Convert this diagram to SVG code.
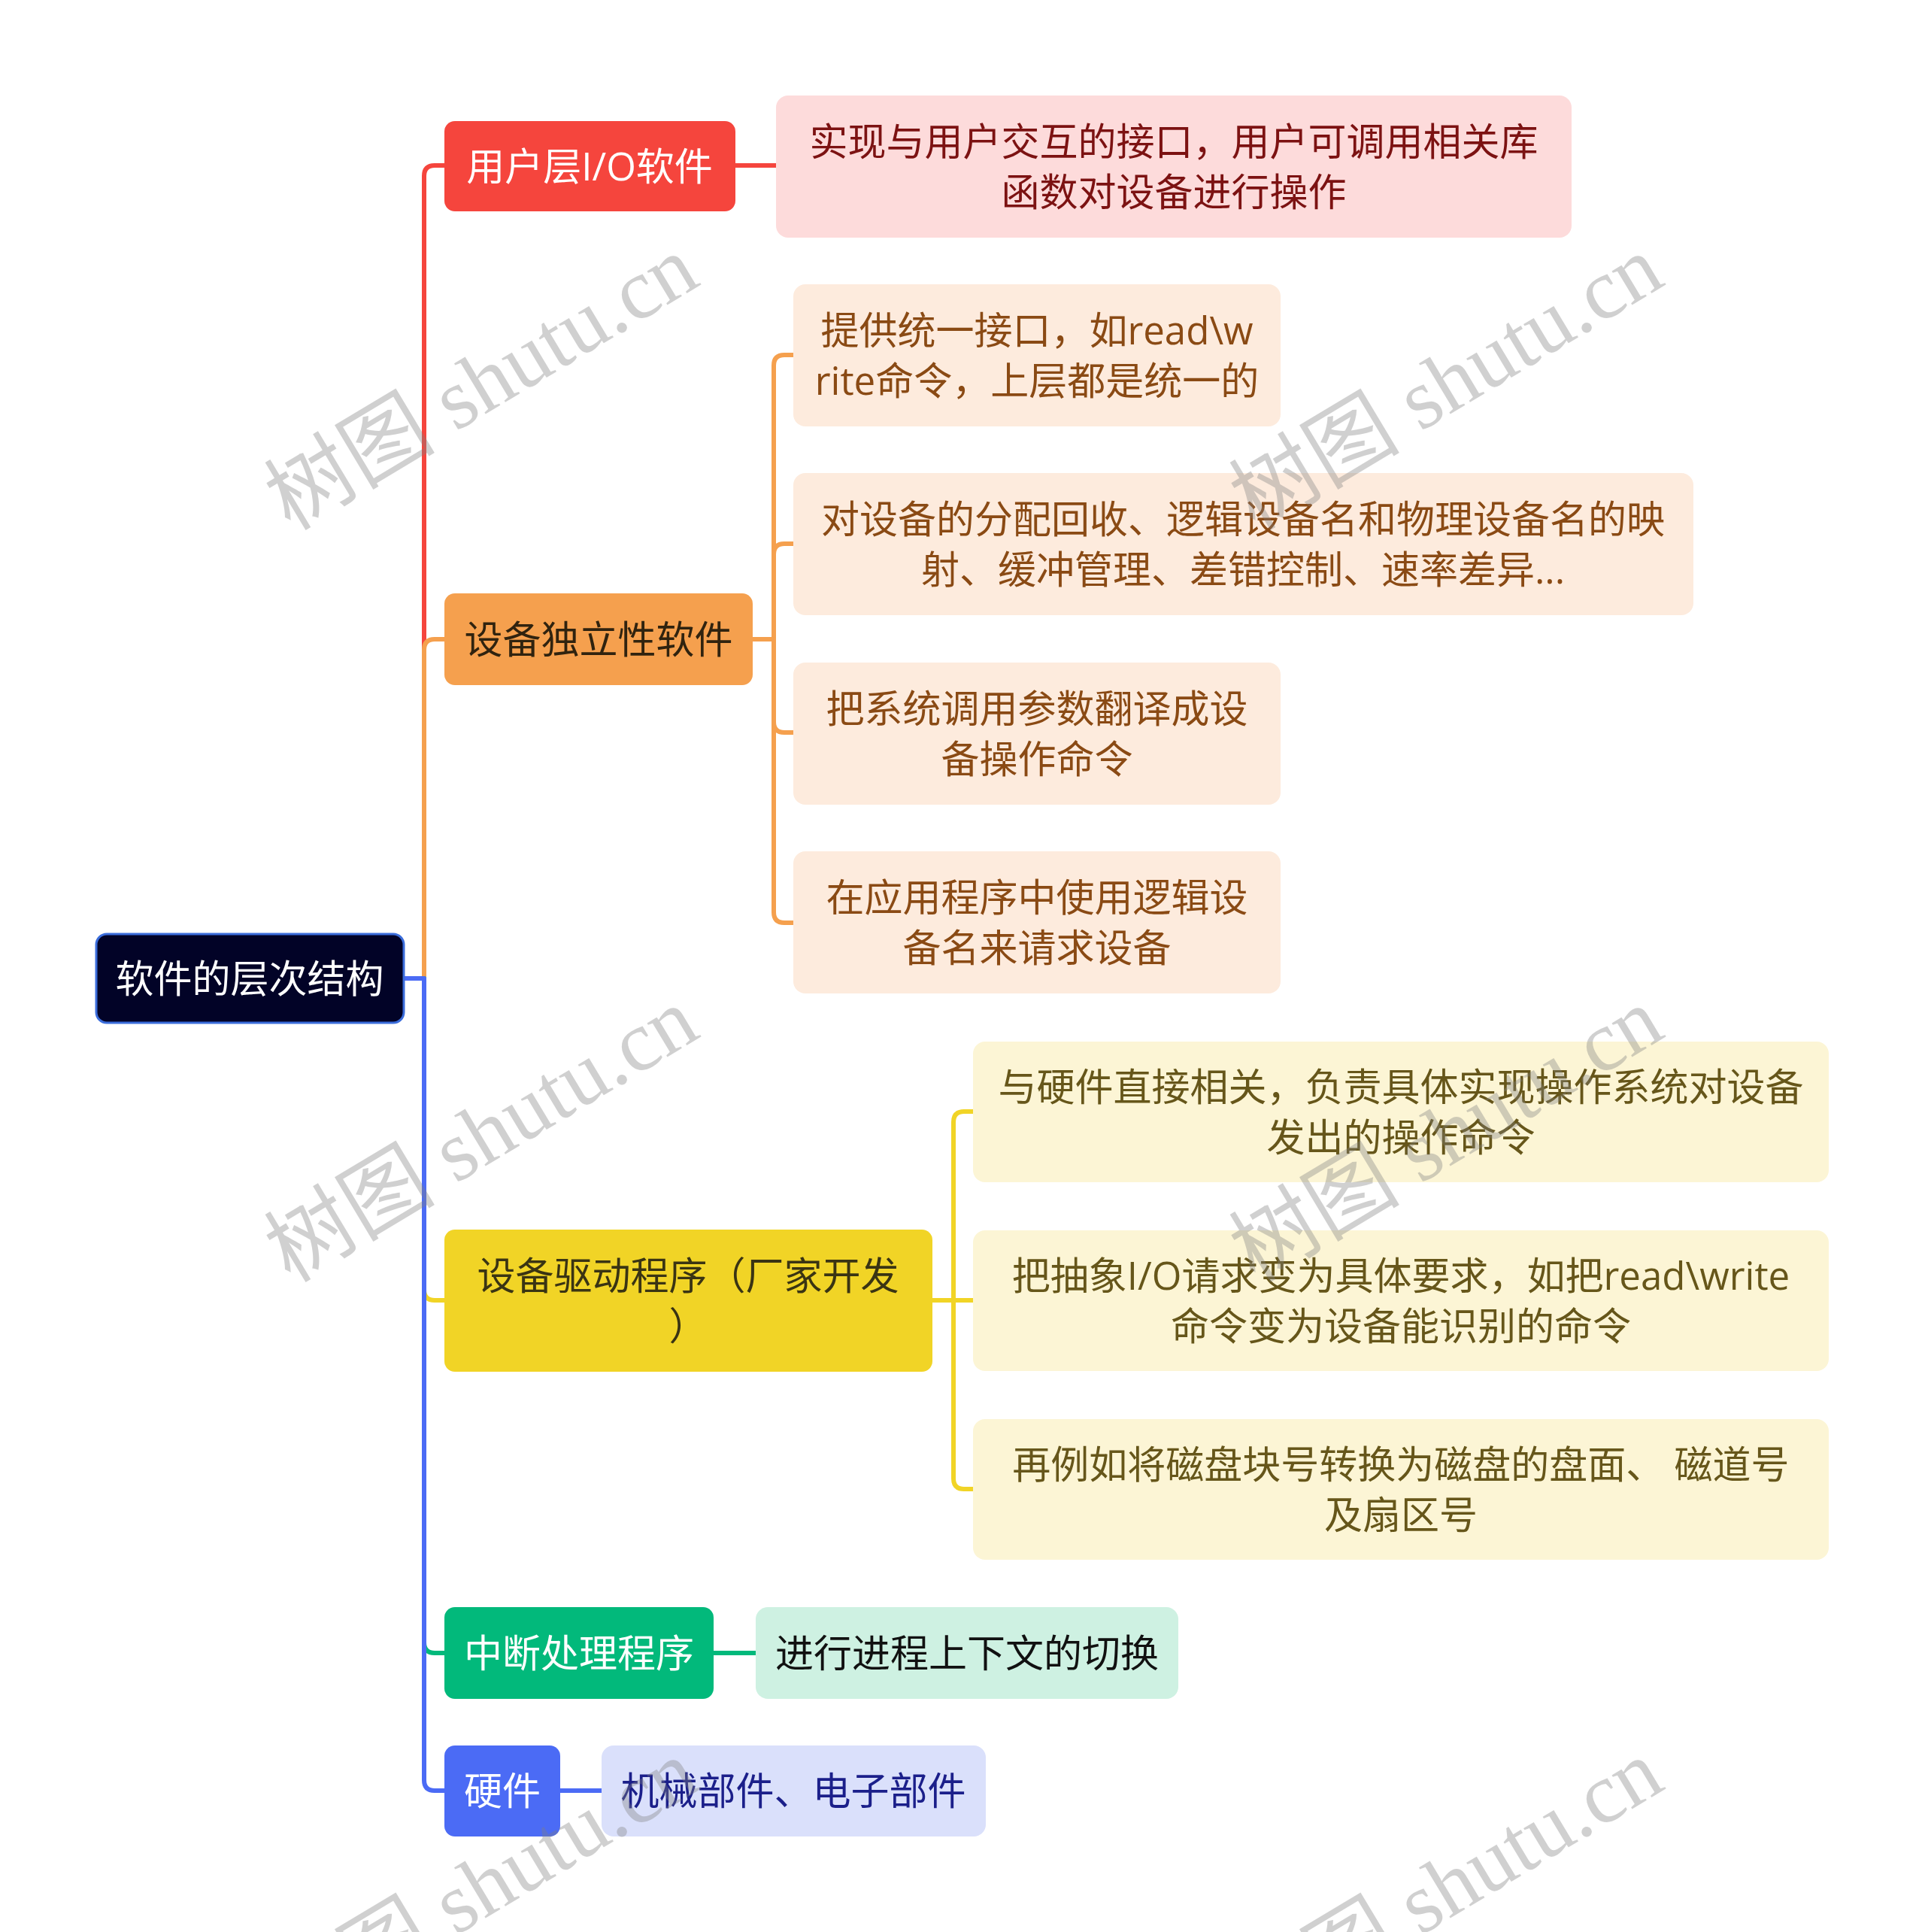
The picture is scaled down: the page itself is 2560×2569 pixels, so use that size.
<svg xmlns="http://www.w3.org/2000/svg" width="2560" height="2569" viewBox="0 0 2560 2569">
<style>
text{font-family:"Open Sans","Noto Sans CJK SC",sans-serif;font-size:51px;text-anchor:middle}
.w{fill:#ffffff}
.c{fill:none;stroke-width:6;stroke-linecap:round;stroke-linejoin:round}
.wm{font-family:"Liberation Serif","Noto Sans CJK SC",serif;font-size:114px;fill:#808080;opacity:0.36;text-anchor:middle}
</style>
<rect x="0" y="0" width="2560" height="2569" fill="#ffffff"/>
<g id="connectors">
<path class="c" stroke="#F5453D" d="M537,1301 H564 V234 Q564,220 578,220 H591"/>
<path class="c" stroke="#F5453D" d="M978,220 H1032"/>
<path class="c" stroke="#F5A04E" d="M537,1301 H564 V864 Q564,850 578,850 H591"/>
<path class="c" stroke="#F5A04E" d="M1000,850 H1029 V486 Q1029,472 1043,472 H1055"/>
<path class="c" stroke="#F5A04E" d="M1029,850 V737 Q1029,723 1043,723 H1055"/>
<path class="c" stroke="#F5A04E" d="M1029,850 V960 Q1029,974 1043,974 H1055"/>
<path class="c" stroke="#F5A04E" d="M1029,850 V1213 Q1029,1227 1043,1227 H1055"/>
<path class="c" stroke="#F1D426" d="M537,1301 H564 V1715 Q564,1729 578,1729 H591"/>
<path class="c" stroke="#F1D426" d="M1240,1729 H1294"/>
<path class="c" stroke="#F1D426" d="M1268,1729 V1492 Q1268,1478 1282,1478 H1294"/>
<path class="c" stroke="#F1D426" d="M1268,1729 V1966 Q1268,1980 1282,1980 H1294"/>
<path class="c" stroke="#02B97B" d="M537,1301 H564 V2184 Q564,2198 578,2198 H591"/>
<path class="c" stroke="#02B97B" d="M949,2198 H1005"/>
<path class="c" stroke="#4B6BF5" d="M537,1301 H564 V2367 Q564,2381 578,2381 H591"/>
<path class="c" stroke="#4B6BF5" d="M745,2381 H800"/>
</g>
<g id="root">
<rect x="128" y="1242" width="409" height="118" rx="14" fill="#020327" stroke="#3B6DDB" stroke-width="3"/>
<text class="w" x="332" y="1320">软件的层次结构</text>
</g>
<g id="n-user">
<rect x="591" y="161" width="387" height="120" rx="14" fill="#F5453D"/>
<text class="w" x="784" y="240">用户层I/O软件</text>
</g>
<g id="n-user-1">
<rect x="1032" y="127" width="1058" height="189" rx="16" fill="#FDDBDB"/>
<text fill="#7C1212" x="1561" y="207">实现与用户交互的接口，用户可调用相关库</text>
<text fill="#7C1212" x="1561" y="274">函数对设备进行操作</text>
</g>
<g id="n-indep">
<rect x="591" y="789" width="410" height="122" rx="14" fill="#F5A04E"/>
<text fill="#30230F" x="796" y="869">设备独立性软件</text>
</g>
<g id="n-indep-1">
<rect x="1055" y="378" width="648" height="189" rx="16" fill="#FDEBDD"/>
<text fill="#8A4A14" x="1379" y="458">提供统一接口，如read\w</text>
<text fill="#8A4A14" x="1379" y="525">rite命令，上层都是统一的</text>
</g>
<g id="n-indep-2">
<rect x="1055" y="629" width="1197" height="189" rx="16" fill="#FDEBDD"/>
<text fill="#8A4A14" x="1653" y="709">对设备的分配回收、逻辑设备名和物理设备名的映</text>
<text fill="#8A4A14" x="1653" y="776">射、缓冲管理、差错控制、速率差异...</text>
</g>
<g id="n-indep-3">
<rect x="1055" y="881" width="648" height="189" rx="16" fill="#FDEBDD"/>
<text fill="#8A4A14" x="1379" y="961">把系统调用参数翻译成设</text>
<text fill="#8A4A14" x="1379" y="1028">备操作命令</text>
</g>
<g id="n-indep-4">
<rect x="1055" y="1132" width="648" height="189" rx="16" fill="#FDEBDD"/>
<text fill="#8A4A14" x="1379" y="1212">在应用程序中使用逻辑设</text>
<text fill="#8A4A14" x="1379" y="1279">备名来请求设备</text>
</g>
<g id="n-driver">
<rect x="591" y="1635" width="649" height="189" rx="14" fill="#F1D426"/>
<text fill="#3A3413" x="915" y="1715">设备驱动程序（厂家开发</text>
<text fill="#3A3413" x="915" y="1782">）</text>
</g>
<g id="n-driver-1">
<rect x="1294" y="1385" width="1138" height="187" rx="16" fill="#FCF5D5"/>
<text fill="#66561A" x="1863" y="1464">与硬件直接相关，负责具体实现操作系统对设备</text>
<text fill="#66561A" x="1863" y="1531">发出的操作命令</text>
</g>
<g id="n-driver-2">
<rect x="1294" y="1636" width="1138" height="187" rx="16" fill="#FCF5D5"/>
<text fill="#66561A" x="1863" y="1715">把抽象I/O请求变为具体要求，如把read\write</text>
<text fill="#66561A" x="1863" y="1782">命令变为设备能识别的命令</text>
</g>
<g id="n-driver-3">
<rect x="1294" y="1887" width="1138" height="187" rx="16" fill="#FCF5D5"/>
<text fill="#66561A" x="1863" y="1966">再例如将磁盘块号转换为磁盘的盘面、 磁道号</text>
<text fill="#66561A" x="1863" y="2033">及扇区号</text>
</g>
<g id="n-irq">
<rect x="591" y="2137" width="358" height="122" rx="14" fill="#02B97B"/>
<text class="w" x="770" y="2217">中断处理程序</text>
</g>
<g id="n-irq-1">
<rect x="1005" y="2137" width="562" height="122" rx="16" fill="#CEF1E2"/>
<text fill="#111111" x="1286" y="2217">进行进程上下文的切换</text>
</g>
<g id="n-hw">
<rect x="591" y="2321" width="154" height="121" rx="14" fill="#4B6BF5"/>
<text class="w" x="668" y="2400">硬件</text>
</g>
<g id="n-hw-1">
<rect x="800" y="2321" width="511" height="121" rx="16" fill="#DAE0FB"/>
<text fill="#1B1F8A" x="1055" y="2400">机械部件、电子部件</text>
</g>
<g id="watermarks">
<text class="wm" transform="translate(642,512) rotate(-31)" x="0" y="35">树图 shutu.cn</text>
<text class="wm" transform="translate(1925,512) rotate(-31)" x="0" y="35">树图 shutu.cn</text>
<text class="wm" transform="translate(642,1512) rotate(-31)" x="0" y="35">树图 shutu.cn</text>
<text class="wm" transform="translate(1925,1512) rotate(-31)" x="0" y="35">树图 shutu.cn</text>
<text class="wm" transform="translate(642,2512) rotate(-31)" x="0" y="35">树图 shutu.cn</text>
<text class="wm" transform="translate(1925,2512) rotate(-31)" x="0" y="35">树图 shutu.cn</text>
</g>
</svg>
